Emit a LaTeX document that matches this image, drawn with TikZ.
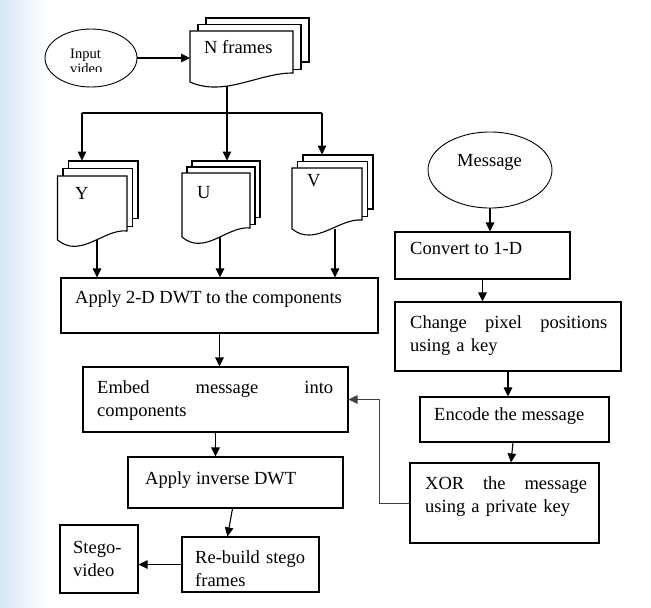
\documentclass[tikz,border=0pt]{standalone}
\usepackage{fontspec}
\setmainfont{Liberation Serif}
\usetikzlibrary{arrows.meta,calc,shapes.geometric,backgrounds}
% multidocument: #1 name, #2 x0, #3 y0 (front top-left), #4 width, #5 left height, #6 dx, #7 dy
\newcommand{\mdoc}[7]{%
  \draw[docl] ({#2+2*#6},{#3-#7}) -- ({#2+2*#6},{#3-2*#7}) -- ({#2+#4+2*#6},{#3-2*#7}) -- ({#2+#4+2*#6},{#3+#5-9-1.7*#7}) -- ({#2+#4+#6},{#3+#5-9-1.7*#7});
  \draw[docl] ({#2+#6},{#3}) -- ({#2+#6},{#3-#7}) -- ({#2+#4+#6},{#3-#7}) -- ({#2+#4+#6},{#3+#5-9-0.6*#7}) -- ({#2+#4},{#3+#5-9-0.6*#7});
  \draw[docl,fill=white] (#2,#3) -- ({#2+#4},#3) -- ({#2+#4},{#3+#5-9}) .. controls ({#2+2*#4/3},{#3+#5-0.18*#5}) and ({#2+#4/3},{#3+#5+0.3*#5}) .. (#2,{#3+#5}) -- cycle;
  \node[inner sep=0pt, minimum width={#4+2*#6}, minimum height={#5+2*#7}, anchor=south west] (#1) at (#2,{#3+#5}) {};
}
\newcommand{\jline}[2]{\hbox to #1{#2}}
\begin{document}
\begin{tikzpicture}[x=1pt,y=-1pt,
  font=\fontsize{18.5}{23.5}\selectfont,
  box/.style={draw, line width=1.1pt, inner sep=0pt},
  ell/.style={draw, ellipse, line width=0.9pt, inner sep=0pt},
  docl/.style={line width=1.1pt},
  ln/.style={line width=1.1pt},
  arr/.style={line width=1.1pt, -{Triangle[length=9pt,width=8.5pt]}},
  txt/.style={inner sep=0pt, anchor=base west}]
\useasboundingbox (0,0) rectangle (651,608);

% multidocuments
\mdoc{nf}{190}{31}{103}{51}{8}{6.5}
\mdoc{Y}{57.5}{176}{69.5}{64}{5.5}{7.5}
\mdoc{U}{182}{173}{68}{64}{5}{6}
\mdoc{V}{292}{168}{70}{61}{5.5}{6.5}

% ellipses
\node[ell, minimum width=92pt, minimum height=58pt] (inp) at (91,58) {};
\node[ell, minimum width=124pt, minimum height=76pt] (msg) at (490,170) {};

% boxes
\node[box, minimum width=317pt, minimum height=55pt] (apply) at (219.5,305.5) {};
\node[box, minimum width=265pt, minimum height=65pt] (embed) at (215.5,399.5) {};
\node[box, minimum width=215pt, minimum height=51pt] (inv) at (235.5,482.5) {};
\node[box, minimum width=137pt, minimum height=55pt] (rebuild) at (250.5,564.5) {};
\node[box, minimum width=78pt, minimum height=68pt] (stego) at (99,559) {};
\node[box, minimum width=175pt, minimum height=47pt] (convert) at (482.5,255.5) {};
\node[box, minimum width=226pt, minimum height=69pt] (change) at (508,336.5) {};
\node[box, minimum width=189pt, minimum height=45pt] (encode) at (514.5,419.5) {};
\node[box, minimum width=189pt, minimum height=80pt] (xor) at (504.5,503) {};

% texts
\begin{scope}
  \clip (60,38) rectangle (120,71);
  \node[txt, text width=45pt, align=left, font=\fontsize{14.5}{15}\selectfont] (tinp) at (70,58) {Input\\video};
\end{scope}
\node[txt] (tnf) at (204,53) {N frames};
\node[txt] (tY) at (75,199) {Y};
\node[txt] (tU) at (197,198) {U};
\node[txt] (tV) at (307,186) {V};
\node[txt] (tmsg) at (457,166) {Message};
\node[txt] (tapply) at (75,303) {Apply 2-D DWT to the components};
\node[txt, text width=240pt, align=left] (tembed) at (97,393) {\jline{236pt}{Embed\hfill message\hfill into}\\components};
\node[txt] (tinv) at (145,484) {Apply inverse DWT};
\node[txt, text width=120pt, align=left] (treb) at (195,563) {Re-build stego\\frames};
\node[txt, text width=60pt, align=left] (tstego) at (73,553) {Stego-\\video};
\node[txt] (tconv) at (410,254) {Convert to 1-D};
\node[txt, text width=200pt, align=left] (tchg) at (410,328) {\jline{197pt}{Change\hfill pixel\hfill positions}\\using a key};
\node[txt] (tenc) at (434,420) {Encode the message};
\node[txt, text width=170pt, align=left] (txor) at (425,489) {\jline{162pt}{XOR\hfill the\hfill message}\\using a private key};

% connector helper points
\coordinate (split) at (227,113);
\coordinate (bl) at (82,113);
\coordinate (br) at (322,113);
\coordinate (xY) at (97,300);
\coordinate (xU) at (220,300);
\coordinate (xV) at (335,300);

\begin{pgfonlayer}{background}
  \shade[left color={rgb,255:red,214;green,231;blue,246}, right color=white] (0,0) rectangle (48,608);
  \draw[ln] (split |- nf.south) -- (split);
  \draw[ln] (bl) -- (br);
  \draw[arr] (bl) -- (bl |- Y.north);
  \draw[arr] (split) -- (split |- U.north);
  \draw[arr] (br) -- (br |- V.north);
  \draw[arr] (Y.south -| xY) -- (apply.north -| xY);
  \draw[arr] (U.south -| xU) -- (apply.north -| xU);
  \draw[arr] (V.south -| xV) -- (apply.north -| xV);
\end{pgfonlayer}

\draw[arr] (inp.east) -- (inp.east -| nf.west);
\draw[arr] (apply.south) -- (apply.south |- embed.north);
\draw[arr] (embed.south) -- (embed.south |- inv.north);
\draw[arr] ($(inv.south)+(-3,0)$) -- ($(rebuild.north)+(-23,0)$);
\draw[arr] (rebuild.west) -- (rebuild.west -| stego.east);
\draw[arr] (msg.south) -- (msg.south |- convert.north);
\draw[arr] (convert.south) -- (convert.south |- change.north);
\draw[arr] (change.south) -- (change.south |- encode.north);
\draw[arr] ($(encode.south)+(-1.5,0)$) -- ($(xor.north)+(6.5,0)$);
\draw[arr, draw=black!75, line width=1pt] (xor.west) -- ++(-30,0) |- (embed.east);
\end{tikzpicture}
\end{document}
